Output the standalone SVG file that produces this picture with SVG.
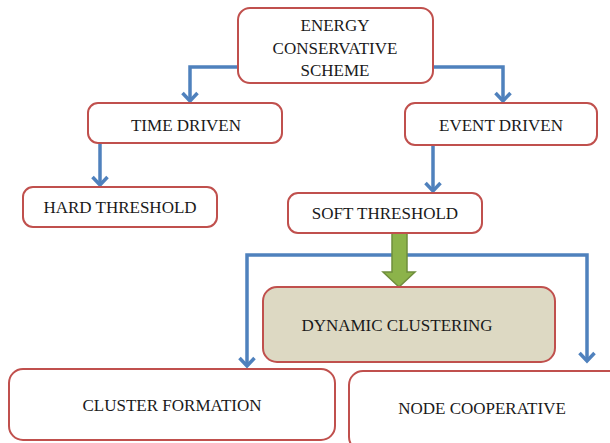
<svg xmlns="http://www.w3.org/2000/svg" width="610" height="443" viewBox="0 0 610 443">
<style>
.box{fill:#FFFFFF;stroke:#C0504D;stroke-width:2}
.dyn{fill:#DDD9C3;stroke:#C0504D;stroke-width:2}
.lbl{font-family:'Liberation Serif','DejaVu Serif',serif;font-size:17px;fill:#1A1A1A;text-anchor:middle}
.con{fill:none;stroke:#4F81BD;stroke-width:3.5;marker-end:url(#arr)}
</style>
<defs>
<marker id="arr" markerUnits="userSpaceOnUse" markerWidth="24" markerHeight="24" viewBox="-12 -12 24 24" refX="0" refY="0" orient="auto" overflow="visible">
<path d="M-8,-7.5 L0,0 L-8,7.5" fill="none" stroke="#4F81BD" stroke-width="3.5" stroke-linejoin="miter"/>
</marker>
</defs>
<rect width="610" height="443" fill="#FFFFFF"/>
<g id="connectors">
<path class="con" d="M238,67 H190 V101"/>
<path class="con" d="M433,67 H503 V101"/>
<path class="con" d="M100,143 V185"/>
<path class="con" d="M433,145 V191"/>
<path class="con" d="M400,255 H247 V366"/>
<path class="con" d="M400,255 H587 V361"/>
<path d="M392,233 V272 H383 L399,287 L415,272 H407 V233 Z" fill="#8CB34A" stroke="#6F8E3C" stroke-width="1.5"/>
</g>
<g id="energy">
<rect class="box" x="238" y="8" width="195" height="75" rx="12"/>
<text class="lbl" font-family="Liberation Serif, serif" x="335" y="31">ENERGY</text>
<text class="lbl" font-family="Liberation Serif, serif" x="335" y="54">CONSERVATIVE</text>
<text class="lbl" font-family="Liberation Serif, serif" x="335" y="76">SCHEME</text>
</g>
<g id="time">
<rect class="box" x="88" y="103" width="194" height="40" rx="10"/>
<text class="lbl" font-family="Liberation Serif, serif" x="186" y="131">TIME DRIVEN</text>
</g>
<g id="event">
<rect class="box" x="405" y="103" width="192" height="42" rx="10"/>
<text class="lbl" font-family="Liberation Serif, serif" x="501" y="131">EVENT DRIVEN</text>
</g>
<g id="hard">
<rect class="box" x="23" y="187" width="194" height="40" rx="10"/>
<text class="lbl" font-family="Liberation Serif, serif" x="120" y="213">HARD THRESHOLD</text>
</g>
<g id="soft">
<rect class="box" x="288" y="193" width="194" height="40" rx="10"/>
<text class="lbl" font-family="Liberation Serif, serif" x="385" y="219">SOFT THRESHOLD</text>
</g>
<g id="dynamic">
<rect class="dyn" x="263" y="287" width="292" height="75" rx="14"/>
<text class="lbl" font-family="Liberation Serif, serif" x="397" y="331">DYNAMIC  CLUSTERING</text>
</g>
<g id="cluster">
<rect class="box" x="9" y="369" width="326" height="71" rx="14"/>
<text class="lbl" font-family="Liberation Serif, serif" x="172" y="411">CLUSTER FORMATION</text>
</g>
<g id="node">
<rect class="box" x="349" y="371" width="275" height="80" rx="14"/>
<text class="lbl" font-family="Liberation Serif, serif" x="482" y="414">NODE COOPERATIVE</text>
</g>
</svg>
